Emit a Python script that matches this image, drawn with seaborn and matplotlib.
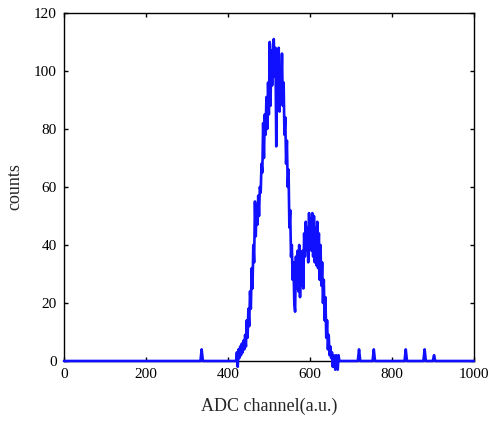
import numpy as np
import pandas as pd
import matplotlib
matplotlib.use("Agg")
import matplotlib.pyplot as plt
import seaborn as sns

# spectrum: counts every 2 channels from 420 to 672
peak_start = 420
peak_step = 2
peak_counts = [
    0, 3, -2, 4, 1, 5, 2, 6, 3, 7, 4, 9, 5, 14, 8, 18, 12, 24, 18, 32,
    25, 40, 34, 55, 43, 54, 47, 57, 50, 60, 58, 68, 65, 82, 70, 85, 78, 91, 80, 96,
    85, 110, 88, 107, 95, 109, 111, 98, 108, 74, 104, 90, 108, 86, 100, 92, 106, 88, 96, 78,
    84, 68, 76, 60, 66, 46, 52, 36, 40, 28, 34, 20, 17, 36, 25, 38, 24, 40, 22, 36,
    26, 38, 25, 44, 36, 48, 38, 46, 34, 51, 40, 49, 38, 51, 36, 50, 34, 46, 33, 48,
    32, 44, 28, 40, 26, 34, 20, 28, 14, 22, 8, 14, 4, 9, 2, 5, 1, 3, -2, 2,
    0, -3, 2, 0, -3, 2, 0,
]
# isolated counts outside the peak
spike_channels = [336, 720, 756, 834, 880, 903]
spike_counts = [4, 4, 4, 4, 4, 2]

n_channels = 1001
channels = np.arange(n_channels)
peak_idx = peak_start + peak_step * np.arange(len(peak_counts))

# flat zero baseline away from the peak and the isolated counts
keep = np.ones(n_channels, dtype=bool)
keep[peak_start:peak_idx[-1] + 1] = False
for c in spike_channels:
    keep[c - 2:c + 3] = False
df_base = pd.DataFrame({"channel": channels[keep], "counts": 0.0})
df_peak = pd.DataFrame({"channel": peak_idx, "counts": peak_counts})
df_spk = pd.DataFrame({"channel": spike_channels, "counts": spike_counts})
df = pd.concat([df_base, df_peak, df_spk]).sort_values("channel").reset_index(drop=True)

sns.set_style("ticks")
plt.rcParams["font.family"] = ["Liberation Serif", "DejaVu Serif"]

fig = plt.figure(figsize=(4.92, 4.26), dpi=100)
ax = fig.add_axes([0.130, 0.1526, 0.833, 0.817])

sns.lineplot(data=df, x="channel", y="counts", ax=ax, color="#1010ff",
             linewidth=1.9, estimator=None, sort=True, clip_on=False, zorder=3)

ax.set_xlim(0, 1000)
ax.set_ylim(0, 120)
ax.set_xticks(np.arange(0, 1001, 200))
ax.set_yticks(np.arange(0, 121, 20))
ax.tick_params(direction="in", length=3, width=1, top=True, right=True,
               labelsize=11, colors="black", pad=5)
for s in ax.spines.values():
    s.set_visible(True)
    s.set_color("black")
    s.set_linewidth(1.0)

ax.set_xlabel("ADC channel(a.u.)", fontsize=13, labelpad=12)
ax.set_ylabel("counts", fontsize=13, labelpad=8)

fig.savefig("out.png", dpi=100)
